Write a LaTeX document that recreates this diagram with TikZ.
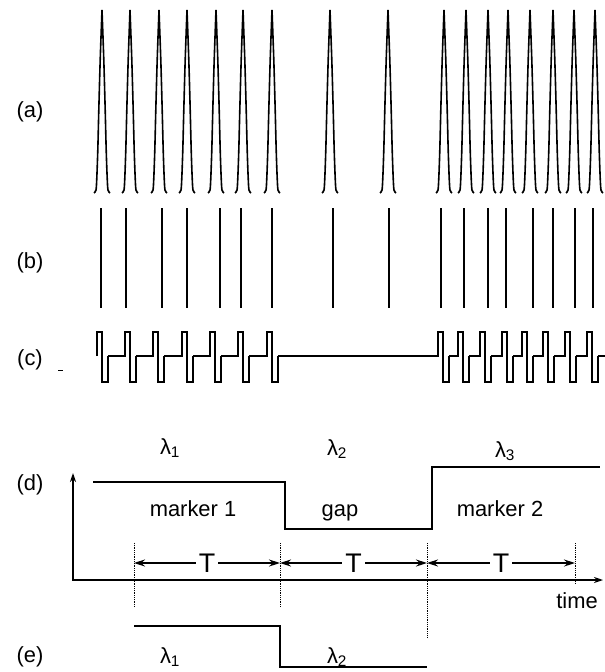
\documentclass[tikz,border=0pt]{standalone}
\usepackage{fontspec}
\setmainfont{Liberation Sans}
\usepackage{xcolor}
\definecolor{traceblack}{RGB}{0, 0, 0}
\usepackage{tikz}
\usetikzlibrary{positioning, calc, arrows.meta}

\begin{document}
\begin{tikzpicture}[x=1bp, y=-1bp,
    tag/.style={font=\fontsize{22}{24}\selectfont, inner sep=0pt, text=traceblack},
    bigT/.style={font=\fontsize{27}{29}\selectfont, fill=white, inner xsep=3bp, inner ysep=0pt},
    spike/.style={draw=traceblack, line width=1.6bp},
    trace/.style={draw=traceblack, line width=1.7bp},
    wave/.style={draw=traceblack, line width=2bp},
    guide/.style={draw=traceblack, line width=0.9bp, dash pattern=on 0.9bp off 0.9bp},
    >={Stealth[length=9bp, width=6bp]}]
    \useasboundingbox (0,0) rectangle (605,672);

    % Row labels
    \node[tag] (lab a) at (30,112) {(a)};
    \node[tag] (lab b) at (30,263) {(b)};
    \node[tag] (lab c) at (30,360) {(c)};
    \node[tag] (lab d) at (30,485) {(d)};
    \node[tag] (lab e) at (30,657) {(e)};
    \draw[draw=traceblack, line width=0.8bp] (58,370) -- (63,370);

    % (a) Intensity spikes
    \foreach \x in {102,130,159,187,216,243,272,330,388,444,466,488,508,530,553,574,595} {
        \draw[spike, shift={(\x,0)}]
            plot[smooth] coordinates {(-8,193) (-6,190) (-5.2,178) (-4.2,150) (-3.2,110) (-1.8,60) (0,10)}
            plot[smooth] coordinates {(0,10) (1.8,60) (3.2,110) (4.2,150) (5.2,178) (6,190) (8,193)};
    }

    % (b) Pulse train
    \foreach \x in {101,126,162,187,220,241,272,333,389,441,464,488,506,533,553,575,593} {
        \draw[draw=traceblack, line width=1.4bp] (\x,208) -- (\x,308);
    }

    % (c) Coded waveform: lead-in from previous pulse, then up/down pulse
    \foreach \s/\x in {97/97, 108/125, 136/153, 164/182, 193/210, 221/238, 249/267, 278/438, 449/458, 469/480, 491/502, 513/522, 533/543, 554/565, 576/587} {
        \draw[wave] (\s,356) -- (\x,356) -- (\x,332) -- (\x+5,332) -- (\x+5,382) -- (\x+11,382) -- (\x+11,356);
    }
    \draw[wave] (598,356) -- (605,356);

    % (d) Wavelength levels
    \node[tag, anchor=center] (lam1) at (170,448) {λ\textsubscript{1}};
    \node[tag, anchor=center] (lam2) at (337,449) {λ\textsubscript{2}};
    \node[tag, anchor=center] (lam3) at (505,451) {λ\textsubscript{3}};

    \draw[draw=traceblack, line width=1.3bp, <->] (73,473) -- (73,580) -- (603,580);
    \node[tag, anchor=base] (time) at (577,608) {time};

    \draw[trace] (93,482) -- (285,482) -- (285,529) -- (432,529) -- (432,467) -- (600,467);
    \node[tag, anchor=base] (mk1) at (193,516) {marker 1};
    \node[tag, anchor=base] (gap) at (340,516) {gap};
    \node[tag, anchor=base] (mk2) at (500,516) {marker 2};

    % Period marks
    \coordinate (t0) at (134,563);
    \coordinate (t1) at (280,563);
    \coordinate (t2) at (427,563);
    \coordinate (t3) at (575,563);
    \draw[guide] (134,543) -- (134,607);
    \draw[guide] (280,543) -- (280,607);
    \draw[guide] (427,543) -- (427,638);
    \draw[guide] (575,543) -- (575,583);

    \draw[draw=traceblack, line width=1.3bp, <->, >={Stealth[length=11bp, width=7bp]}] (t0) -- (t1) node[bigT, midway] {T};
    \draw[draw=traceblack, line width=1.3bp, <->, >={Stealth[length=11bp, width=7bp]}] (t1) -- (t2) node[bigT, midway] {T};
    \draw[draw=traceblack, line width=1.3bp, <->, >={Stealth[length=11bp, width=7bp]}] (t2) -- (t3) node[bigT, midway] {T};

    % (e) Shifted levels
    \draw[trace] (134,626) -- (280,626) -- (280,667) -- (427,667);
    \node[tag, anchor=center] (lam1e) at (170,657) {λ\textsubscript{1}};
    \node[tag, anchor=center] (lam2e) at (337,657) {λ\textsubscript{2}};
\end{tikzpicture}
\end{document}
